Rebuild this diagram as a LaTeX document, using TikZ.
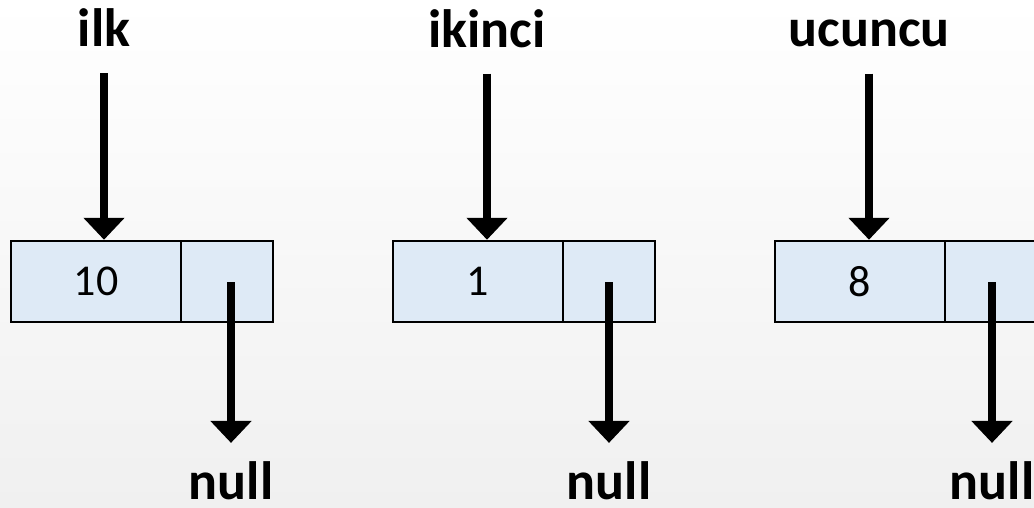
\documentclass[tikz,border=0pt]{standalone}
\usepackage{fontspec}
\setmainfont{Carlito}
\usetikzlibrary{arrows.meta}
\definecolor{cellfill}{RGB}{222,234,246}
\definecolor{bgbottom}{RGB}{240,240,240}
\tikzset{
  cell/.style={draw=black, line width=2.5pt, fill=cellfill, minimum height=81pt, inner sep=0pt, font=\fontsize{44}{50}\selectfont},
  datacell/.style={cell, minimum width=170pt},
  ptrcell/.style={cell, minimum width=92pt},
  lbl/.style={inner sep=0pt, anchor=base, font=\bfseries\fontsize{54}{60}\selectfont},
  arr/.style={line width=7.5pt, -{Triangle[width=40pt,length=22pt]}}
}
\begin{document}
\begin{tikzpicture}[x=1pt,y=-1pt]
\shade[top color=white, bottom color=bgbottom] (0,0) rectangle (1034,508);
\useasboundingbox (0,0) rectangle (1034,508);
% box 1
\node[datacell] (d1) at (96,281.5) {10};
\node[ptrcell]  (p1) at (227,281.5) {};
% box 2
\node[datacell] (d2) at (478,281.5) {1};
\node[ptrcell]  (p2) at (609,281.5) {};
% box 3
\node[datacell] (d3) at (860,281.5) {8};
\node[ptrcell]  (p3) at (991,281.5) {};
% labels
\node[lbl] (l1) at (104,47) {ilk};
\node[lbl] (l2) at (487,48) {ikinci};
\node[lbl] (l3) at (869,47) {ucuncu};
\node[lbl] (n1) at (231,499) {null};
\node[lbl] (n2) at (609,499) {null};
\node[lbl] (n3) at (992,499) {null};
% pointer starts
\coordinate (c1) at (231,282);
\coordinate (c2) at (609,282);
\coordinate (c3) at (992,282);
% top arrows
\draw[arr, shorten <=26pt] (l1.south) -- (l1.south |- d1.north);
\draw[arr, shorten <=25pt] (l2.south) -- (l2.south |- d2.north);
\draw[arr, shorten <=26pt] (l3.south) -- (l3.south |- d3.north);
% null arrows
\draw[arr] (c1) -- ([yshift=18pt]n1.north);
\draw[arr] (c2) -- ([yshift=18pt]n2.north);
\draw[arr] (c3) -- ([yshift=18pt]n3.north);
\end{tikzpicture}
\end{document}
